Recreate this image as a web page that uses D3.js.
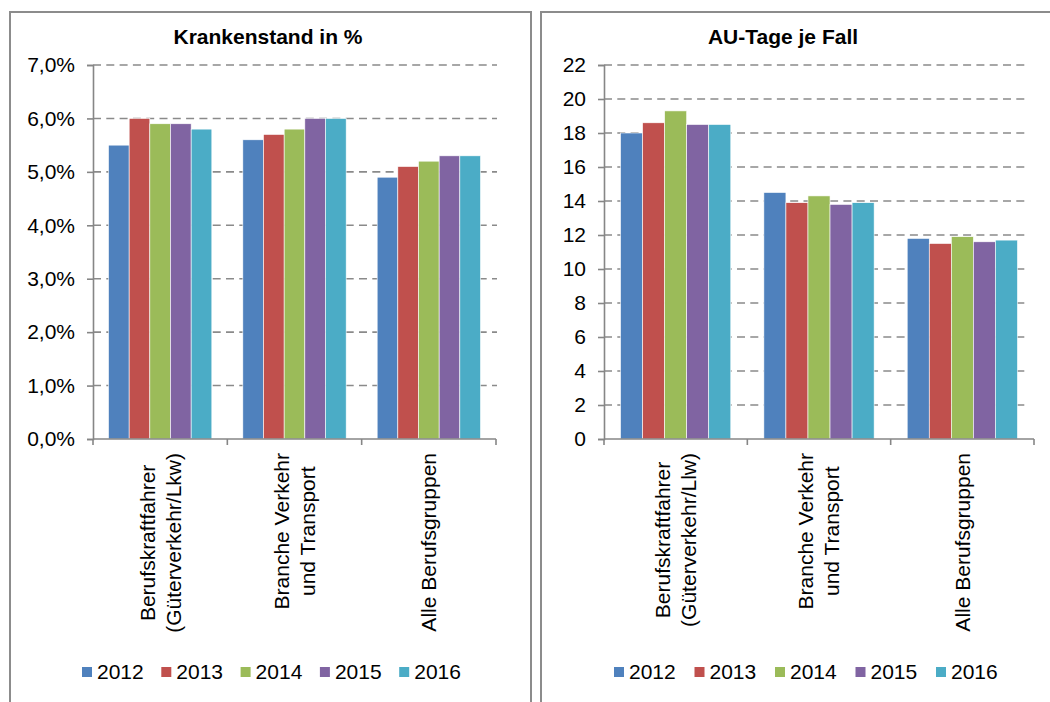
<!DOCTYPE html>
<html>
<head>
<meta charset="utf-8">
<script src="https://cdn.jsdelivr.net/npm/d3@7"></script>
<style>
  body { margin: 0; background: #fff; }
  svg text { font-family: "Liberation Sans", Arial, sans-serif; fill: #000; }
</style>
</head>
<body>
<div id="chart"></div>
<script>
// data
const years = ["2012", "2013", "2014", "2015", "2016"];
const yearColors = ["#4F81BD", "#C0504D", "#9BBB59", "#8064A2", "#4BACC6"];

const krankCategories = [["Berufskraftfahrer", "(Güterverkehr/Lkw)"], ["Branche Verkehr", "und Transport"], ["Alle Berufsgruppen"]];
const krankValues = [   // one row per category, one value per year
  [5.5, 6.0, 5.9, 5.9, 5.8],
  [5.6, 5.7, 5.8, 6.0, 6.0],
  [4.9, 5.1, 5.2, 5.3, 5.3]
];
const krankTicks = [0, 1, 2, 3, 4, 5, 6, 7];

const auCategories = [["Berufskraftfahrer", "(Güterverkehr/Llw)"], ["Branche Verkehr", "und Transport"], ["Alle Berufsgruppen"]];
const auValues = [
  [18.0, 18.6, 19.3, 18.5, 18.5],
  [14.5, 13.9, 14.3, 13.8, 13.9],
  [11.8, 11.5, 11.9, 11.6, 11.7]
];
const auTicks = [0, 2, 4, 6, 8, 10, 12, 14, 16, 18, 20, 22];

const width = 1050, height = 702;
const fontSize = 21;
const de = d3.formatLocale({decimal: ",", thousands: ".", grouping: [3], currency: ["", " €"]});

let svg = d3.select("#chart")
  .append("svg")
  .attr("width", width)
  .attr("height", height);

// panel frames
svg.append("rect").attr("x", 10).attr("y", 12).attr("width", 521).attr("height", 720)
  .attr("fill", "none").attr("stroke", "#8c8c8c").attr("stroke-width", 2);
svg.append("rect").attr("x", 541).attr("y", 12).attr("width", 530).attr("height", 720)
  .attr("fill", "none").attr("stroke", "#8c8c8c").attr("stroke-width", 2);

function drawPanel(opt) {
  let g = svg.append("g");

  let x = d3.scaleBand()
    .domain(d3.range(opt.categories.length))
    .range([opt.x0, opt.x1])
    .padding(0);

  let xYear = d3.scaleBand()
    .domain(years)
    .range([0, x.bandwidth()])
    .paddingInner(0)
    .paddingOuter(0.75);

  let y = d3.scaleLinear()
    .domain([0, d3.max(opt.ticks)])
    .range([439, 65]);

  // dashed gridlines
  g.selectAll(".grid")
    .data(opt.ticks.filter(t => t > 0))
    .join("line")
    .attr("x1", opt.x0).attr("x2", opt.gridEnd)
    .attr("y1", d => y(d)).attr("y2", d => y(d))
    .attr("stroke", "#8a8a8a")
    .attr("stroke-width", 1.6)
    .attr("stroke-dasharray", "8,5.3");

  // bars
  g.selectAll(".cat")
    .data(opt.values)
    .join("g")
    .attr("transform", (d, i) => `translate(${x(i)},0)`)
    .selectAll("rect")
    .data(d => d.map((v, j) => ({year: years[j], value: v, color: yearColors[j]})))
    .join("rect")
    .attr("x", d => xYear(d.year))
    .attr("width", xYear.bandwidth())
    .attr("y", d => y(d.value))
    .attr("height", d => y(0) - y(d.value))
    .attr("fill", d => d.color)
    .attr("stroke", "#fff")
    .attr("stroke-width", 0.6);

  // y axis
  let yAxis = g.append("g")
    .attr("transform", `translate(${opt.x0},0)`)
    .call(d3.axisLeft(y).tickValues(opt.ticks).tickSize(6).tickPadding(12).tickFormat(opt.format));
  yAxis.selectAll("line, path").attr("stroke", "#868686").attr("stroke-width", 1.6);
  yAxis.selectAll("text").style("font-size", fontSize + "px").attr("fill", "#000");

  // x axis line + tick marks at category boundaries
  g.append("line")
    .attr("x1", opt.x0).attr("x2", opt.x1)
    .attr("y1", y(0)).attr("y2", y(0))
    .attr("stroke", "#868686").attr("stroke-width", 1.6);
  g.selectAll(".xtick")
    .data(d3.range(opt.categories.length).map(i => x(i)).concat([opt.x1]))
    .join("line")
    .attr("x1", d => d).attr("x2", d => d)
    .attr("y1", y(0)).attr("y2", y(0) + 6)
    .attr("stroke", "#868686").attr("stroke-width", 1.6);

  // rotated category labels
  let lineH = 26;
  opt.categories.forEach((lines, i) => {
    let t = g.append("text")
      .style("font-size", fontSize + "px")
      .attr("text-anchor", "middle");
    lines.forEach((ln, k) => {
      t.append("tspan")
        .attr("x", 0)
        .attr("y", (k - (lines.length - 1) / 2) * lineH)
        .attr("dy", "0.35em")
        .text(ln);
    });
    let maxLen = d3.max(t.selectAll("tspan").nodes(), n => n.getComputedTextLength());
    t.attr("transform", `translate(${x(i) + x.bandwidth() / 2},${453 + maxLen / 2}) rotate(-90)`);
  });

  // title
  g.append("text")
    .attr("x", opt.titleX).attr("y", 44)
    .attr("text-anchor", "middle")
    .style("font-size", fontSize + "px")
    .style("font-weight", "bold")
    .text(opt.title);

  // legend
  let leg = g.selectAll(".legend")
    .data(years)
    .join("g")
    .attr("transform", (d, i) => `translate(${opt.legendX + i * opt.legendStep},667)`);
  leg.append("rect").attr("width", 10).attr("height", 10).attr("fill", (d, i) => yearColors[i]);
  leg.append("text").attr("x", 15).attr("y", 5).attr("dy", "0.35em")
    .style("font-size", fontSize + "px").text(d => d);
}

drawPanel({
  title: "Krankenstand in %",
  titleX: 268,
  categories: krankCategories,
  values: krankValues,
  ticks: krankTicks,
  format: d => de.format(".1f")(d) + "%",
  x0: 93, x1: 496, gridEnd: 497,
  legendX: 82, legendStep: 79.3
});

drawPanel({
  title: "AU-Tage  je Fall",
  titleX: 783,
  categories: auCategories,
  values: auValues,
  ticks: auTicks,
  format: d => d,
  x0: 604, x1: 1034, gridEnd: 1029,
  legendX: 614, legendStep: 80.5
});
</script>
</body>
</html>
